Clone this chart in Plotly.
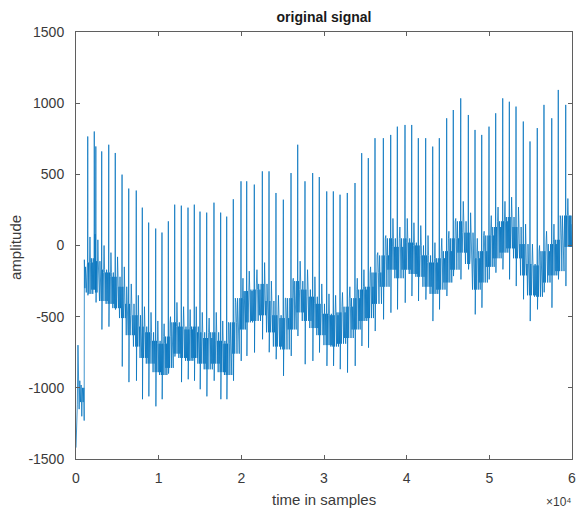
import plotly.graph_objects as go

# ---- data ----
# initial segment before the first heartbeat (sample index, amplitude)
start_samples = [0, 80, 160, 240, 300, 380, 460, 540, 620, 700, 780, 860, 940, 990, 1010, 1080, 1160, 1240, 1320]
start_values = [-1420, -1250, -1120, -700, -1000, -1150, -950, -1100, -980, -1200, -1000, -1100, -1000, -1230, -100, -300, -150, -330, -200]

# per beat: sample position, R peak, S trough, baseline band
beat_samples = [1420, 2210, 2400, 3110, 3960, 4750, 5570, 6380, 7290, 8020,
                8790, 9640, 10400, 11170, 11940, 12740, 13550, 14310, 15000, 15810,
                16690, 17500, 18230, 19030, 19960, 20650, 21570, 22540, 23350, 24190,
                25080, 26010, 26820, 27700, 28630, 29430, 30330, 31130, 31940, 32820,
                33750, 34560, 35360, 36170, 37180, 38070, 38870, 39800, 40610, 41410,
                42300, 43150, 43950, 44840, 45640, 46540, 47460, 48270, 49080, 49960,
                50770, 51620, 52420, 53230, 54110, 54920, 55800, 56610, 57550, 58340,
                59240]
r_peaks = [766, 801, 696, 661, 708, 650, 498, 400, 386, 266,
           161, 119, 91, 170, 287, 280, 266, 287, 238, 231,
           301, 231, 203, 325, 451, 451, 428, 521, 521, 369,
           322, 509, 708, 451, 509, 481, 380, 380, 357, 369,
           439, 649, 614, 754, 754, 777, 835, 847, 847, 754,
           754, 695, 754, 894, 952, 1034, 917, 812, 777, 835,
           929, 1034, 1010, 976, 871, 731, 825, 988, 894, 1093,
           988]
s_troughs = [-350, -300, -400, -590, -570, -450, -850, -960, -950, -1080,
             -1060, -1130, -1080, -900, -780, -960, -940, -950, -1010, -1060,
             -950, -1080, -1080, -950, -811, -776, -752, -659, -750, -799,
             -916, -776, -636, -834, -811, -752, -846, -846, -869, -893,
             -846, -706, -718, -601, -519, -472, -449, -402, -355, -390,
             -380, -531, -449, -355, -215, -238, -168, -484, -437, -238,
             -191, -168, -238, -285, -378, -531, -449, -329, -437, -238,
             -285]
band_top = [-120, -90, -110, -170, -190, -220, -290, -410, -490, -570,
            -610, -670, -690, -640, -540, -570, -590, -570, -610, -650,
            -610, -670, -690, -540, -370, -320, -310, -270, -390, -490,
            -510, -370, -250, -310, -360, -410, -480, -490, -470, -430,
            -370, -310, -290, -190, -70, 50, -10, 50, 20, 0,
            -70, -120, -90, -40, 50, 170, 90, -90, -40, 70,
            130, 170, 200, 130, 10, -130, -140, -40, 10, 40,
            210]
band_bottom = [-340, -310, -330, -390, -410, -440, -510, -630, -710, -790,
               -830, -890, -910, -860, -760, -790, -810, -790, -830, -870,
               -830, -890, -910, -760, -590, -540, -530, -490, -610, -710,
               -730, -590, -470, -530, -580, -630, -700, -710, -690, -650,
               -590, -530, -510, -410, -290, -170, -230, -170, -200, -220,
               -290, -340, -310, -260, -170, -50, -130, -310, -260, -150,
               -90, -50, -20, -90, -210, -350, -360, -260, -210, -180,
               -10]
t_waves = [60, 80, 40, 0, -50, -80, -150, -270, -350, -430,
           -470, -530, -550, -500, -400, -430, -450, -430, -470, -510,
           -470, -530, -550, -400, -230, -180, -170, -120, -250, -350,
           -370, -230, -110, -170, -220, -270, -340, -350, -330, -290,
           -230, -170, -150, -50, 70, 190, 130, 190, 160, 140,
           70, 20, 50, 100, 190, 310, 230, 50, 100, 210,
           270, 310, 340, 270, 150, 10, 0, 100, 150, 180,
           330]
end_sample = 60000
end_value = 150

x_ticks = [0, 10000, 20000, 30000, 40000, 50000, 60000]
x_ticktext = ["0", "1", "2", "3", "4", "5", "6"]
y_ticks = [-1500, -1000, -500, 0, 500, 1000, 1500]
y_ticktext = ["-1500", "-1000", "-500", "0", "500", "1000", "1500"]

# ---- build the trace ----
xs = list(start_samples)
ys = list(start_values)
n = len(beat_samples)
K = 12
for i in range(n):
    s = beat_samples[i]
    j_next = i + 1 if i + 1 < n else i
    nxt = beat_samples[i + 1] if i + 1 < n else end_sample
    gap = nxt - s
    xs += [s - 25, s, s + 25, s + 55]
    ys += [band_top[i], r_peaks[i], s_troughs[i], band_bottom[i]]
    span = gap - 110
    for j in range(K):
        xs.append(s + 70 + (j + 0.5) * span / K)
        src = i if (j // 2) % 2 == 0 else j_next
        if j == 3:
            ys.append(t_waves[i])
        elif j % 2 == 0:
            ys.append(band_top[src])
        else:
            ys.append(band_bottom[src])
xs.append(end_sample)
ys.append(end_value)

fig = go.Figure()
fig.add_trace(go.Scatter(x=xs, y=ys, mode="lines",
                         line=dict(color="#0072BD", width=0.75),
                         hoverinfo="skip", showlegend=False, cliponaxis=True))

axis_color = "#5f5f5f"
text_color = "#3a3a3a"
font_family = "Liberation Sans, Arial, sans-serif"
fig.update_layout(
    width=576, height=518,
    margin=dict(l=76, r=4, t=32, b=59, autoexpand=False),
    paper_bgcolor="white", plot_bgcolor="white",
    font=dict(family=font_family, color=text_color, size=14),
    title=dict(text="<b>original signal</b>", xref="paper", x=0.5, xanchor="center",
               yref="container", y=0.967, yanchor="middle", font=dict(size=14, color="#1a1a1a")),
    xaxis=dict(range=[0, 60000], tickvals=x_ticks, ticktext=x_ticktext, automargin=False,
               showgrid=False, zeroline=False, showline=True, linecolor=axis_color,
               linewidth=1, mirror="ticks", ticks="inside", ticklen=4,
               tickcolor=axis_color, tickfont=dict(size=14, color=text_color),
               ticklabelstandoff=6, ticklabeloverflow="allow"),
    yaxis=dict(range=[-1500, 1500], tickvals=y_ticks, ticktext=y_ticktext, automargin=False,
               showgrid=False, zeroline=False, showline=True, linecolor=axis_color,
               linewidth=1, mirror="ticks", ticks="inside", ticklen=4,
               tickcolor=axis_color, tickfont=dict(size=14, color=text_color),
               ticklabelstandoff=8, ticklabeloverflow="allow"),
)
fig.add_annotation(text="amplitude", xref="paper", yref="paper", x=-0.121, y=0.4965,
                   xanchor="center", yanchor="middle", textangle=-90, showarrow=False,
                   font=dict(size=15, color=text_color))
fig.add_annotation(text="time in samples", xref="paper", yref="paper", x=0.5, y=-0.0937,
                   xanchor="center", yanchor="middle", showarrow=False,
                   font=dict(size=15, color=text_color))
fig.add_annotation(text="×10⁴", xref="paper", yref="paper",
                   x=1.004, y=-0.10, xanchor="right", yanchor="middle",
                   showarrow=False, font=dict(size=12, color=text_color))

# remove the default page margin so the 576x518 figure fills the window exactly
fig.write_html("out.html", config={"displayModeBar": False},
               post_script="document.body.style.margin='0';document.body.style.overflow='hidden';")
